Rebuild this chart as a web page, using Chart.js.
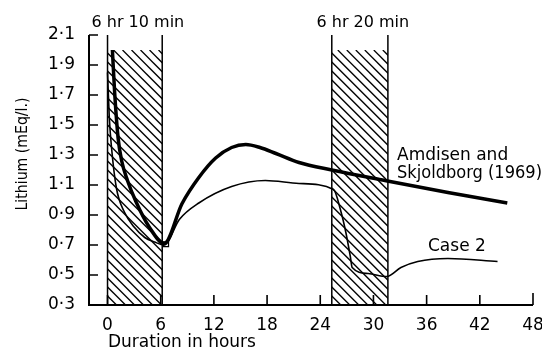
<!DOCTYPE html>
<html>
<head>
<meta charset="utf-8">
<script src="https://cdn.jsdelivr.net/npm/chart.js@4.4.1/dist/chart.umd.min.js"></script>
<style>
  html, body { margin: 0; padding: 0; background: #fff; }
</style>
</head>
<body>
<canvas id="lithiumChart" width="542" height="351"></canvas>
<script>
// --- dados ---
const xTicks = [0, 6, 12, 18, 24, 30, 36, 42, 48];
const yTicks = [0.3, 0.5, 0.7, 0.9, 1.1, 1.3, 1.5, 1.7, 1.9, 2.1];

// Amdisen and Skjoldborg (1969) - curva grossa
const amdisenHours  = [0.55, 0.8, 1.2, 1.6, 2.25, 3.2, 4.7, 6.4, 8.4, 10.3, 12.2, 14, 15.6, 17.2, 19, 21.6, 25.3, 31.3, 38.4, 45.1];
const amdisenLevels = [2.0, 1.72, 1.41, 1.26, 1.13, 0.99, 0.82, 0.71, 0.975, 1.15, 1.28, 1.35, 1.37, 1.35, 1.31, 1.25, 1.2, 1.13, 1.05, 0.98];

// Case 2 - curva fina
const caseHours  = [0, 0.2, 0.45, 1.0, 1.9, 3.0, 4.2, 5.3, 6.4, 8.1, 10.3, 14, 17.8, 21.6, 25.5, 26.3, 26.9, 27.4, 27.6, 29.4, 31.5, 33.1, 35, 38.4, 44];
const caseLevels = [1.85, 1.55, 1.35, 1.08, 0.92, 0.82, 0.75, 0.72, 0.70, 0.87, 0.98, 1.09, 1.13, 1.11, 1.07, 0.93, 0.78, 0.62, 0.55, 0.51, 0.49, 0.55, 0.59, 0.61, 0.59];

// pequeno marcador quadrado no mínimo
const markerHours  = [6.6];
const markerLevels = [0.705];

// períodos de diálise (hachurados)
const dialysisStart  = [0, 25.3];
const dialysisEnd    = [6.17, 31.63];
const dialysisLabels = ['6 hr 10 min', '6 hr 20 min'];
const hatchTop = 2.0;

const FONT = '"DejaVu Sans", sans-serif';

const toPoints = (xs, ys) => xs.map((h, i) => ({ x: h, y: ys[i] }));

// --- plugin: hachuras, eixos com ticks para dentro, textos ---
const figurePlugin = {
    id: 'figure',
    beforeDatasetsDraw(chart) {
        const { ctx, scales: { x, y } } = chart;
        const yBottom = y.getPixelForValue(yTicks[0]);
        const yTop = y.getPixelForValue(yTicks[yTicks.length - 1]);
        const yHatch = y.getPixelForValue(hatchTop);
        ctx.save();
        ctx.strokeStyle = '#000';
        dialysisStart.forEach((start, i) => {
            const x0 = x.getPixelForValue(start);
            const x1 = x.getPixelForValue(dialysisEnd[i]);
            const h = yBottom - yHatch;
            ctx.save();
            ctx.beginPath();
            ctx.rect(x0, yHatch, x1 - x0, h);
            ctx.clip();
            ctx.lineWidth = 1.3;
            for (let sx = x0 - h; sx < x1 + 2; sx += 9) {
                ctx.beginPath();
                ctx.moveTo(sx, yHatch);
                ctx.lineTo(sx + h, yBottom);
                ctx.stroke();
            }
            ctx.restore();
            ctx.lineWidth = 1.5;
            ctx.beginPath();
            ctx.moveTo(x0, yBottom); ctx.lineTo(x0, yTop);
            ctx.moveTo(x1, yBottom); ctx.lineTo(x1, yTop);
            ctx.stroke();
        });
        ctx.restore();
    },
    afterDraw(chart) {
        const { ctx, chartArea: a, scales: { x, y } } = chart;
        ctx.save();
        ctx.strokeStyle = '#000';
        ctx.fillStyle = '#000';
        ctx.lineWidth = 2;
        // eixos
        ctx.beginPath();
        ctx.moveTo(a.left, a.top);
        ctx.lineTo(a.left, a.bottom);
        ctx.lineTo(a.right, a.bottom);
        ctx.stroke();
        // ticks para dentro
        ctx.lineWidth = 1.6;
        ctx.beginPath();
        xTicks.forEach(v => {
            const px = x.getPixelForValue(v);
            ctx.moveTo(px, a.bottom);
            ctx.lineTo(px, a.bottom - (v === 48 ? 12 : 10));
        });
        yTicks.forEach(v => {
            const py = y.getPixelForValue(v);
            ctx.moveTo(a.left, py);
            ctx.lineTo(a.left + 9, py);
        });
        ctx.stroke();

        // rótulos dos períodos
        ctx.font = '16px ' + FONT;
        ctx.textAlign = 'center';
        ctx.textBaseline = 'alphabetic';
        dialysisLabels.forEach((lbl, i) => {
            const cx = (x.getPixelForValue(dialysisStart[i]) + x.getPixelForValue(dialysisEnd[i])) / 2;
            ctx.fillText(lbl, cx + 3, 27);
        });

        // legendas das curvas
        ctx.textAlign = 'left';
        ctx.font = '17px ' + FONT;
        ctx.fillText('Amdisen and', 397, 160, 114);
        ctx.fillText('Skjoldborg (1969)', 397, 178, 145);
        ctx.fillText('Case 2', 428, 251, 60);

        // título do eixo x
        ctx.fillText('Duration in hours', 108, 347, 162);

        // título do eixo y
        ctx.translate(27, 154);
        ctx.rotate(-Math.PI / 2);
        ctx.textAlign = 'center';
        ctx.font = '15px ' + FONT;
        ctx.fillText('Lithium (mEq/l.)', 0, 0, 113);
        ctx.restore();
    }
};

new Chart(document.getElementById('lithiumChart'), {
    type: 'line',
    data: {
        datasets: [
            {
                label: 'Amdisen and Skjoldborg (1969)',
                data: toPoints(amdisenHours, amdisenLevels),
                borderColor: '#000',
                borderWidth: 3.5,
                pointRadius: 0,
                cubicInterpolationMode: 'monotone'
            },
            {
                label: 'Case 2',
                data: toPoints(caseHours, caseLevels),
                borderColor: '#000',
                borderWidth: 1.6,
                pointRadius: 0,
                cubicInterpolationMode: 'monotone'
            },
            {
                label: 'marker',
                data: toPoints(markerHours, markerLevels),
                showLine: false,
                pointStyle: 'rect',
                pointRadius: 3.5,
                pointBackgroundColor: '#fff',
                pointBorderColor: '#000',
                pointBorderWidth: 1.3
            }
        ]
    },
    options: {
        responsive: false,
        animation: false,
        devicePixelRatio: 1,
        layout: { padding: { top: 35, right: 9, left: 0, bottom: 0 } },
        plugins: { legend: { display: false }, tooltip: { enabled: false } },
        scales: {
            x: {
                type: 'linear',
                min: -2.09,
                max: 48,
                afterBuildTicks: s => { s.ticks = xTicks.map(v => ({ value: v })); },
                afterFit: s => { s.height = 46; s.paddingLeft = 0; s.paddingRight = 0; },
                grid: { display: false },
                border: { display: false },
                ticks: {
                    color: '#000',
                    font: { family: FONT, size: 17 },
                    padding: 2,
                    maxRotation: 0,
                    autoSkip: false
                }
            },
            y: {
                min: 0.3,
                max: 2.1,
                afterBuildTicks: s => { s.ticks = yTicks.map(v => ({ value: v })); },
                afterFit: s => { s.width = 89; s.paddingTop = 0; s.paddingBottom = 0; },
                grid: { display: false },
                border: { display: false },
                ticks: {
                    color: '#000',
                    font: { family: FONT, size: 17 },
                    padding: 6,
                    callback: v => v.toFixed(1).replace('.', '\u00b7')
                }
            }
        }
    },
    plugins: [figurePlugin]
});
</script>
</body>
</html>
